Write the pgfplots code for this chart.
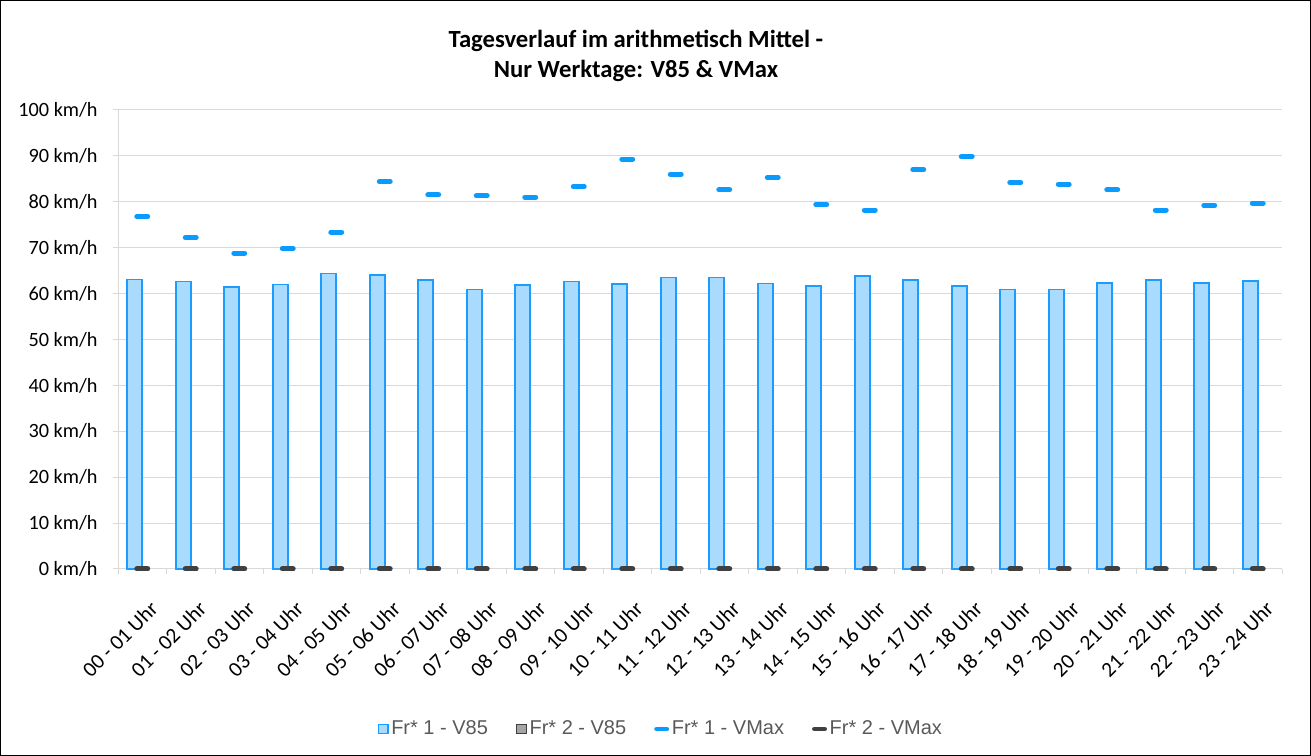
\documentclass[border=0pt]{standalone}
\usepackage{pgfplots}
\pgfplotsset{compat=1.18}
\usepackage{pgfplotstable}
\usepackage{fontspec}
\setmainfont{Carlito}
\newfontfamily\arialf{Liberation Sans}
\definecolor{barfill}{HTML}{A9DBFF}
\definecolor{bardraw}{HTML}{1C9CFF}
\definecolor{vmax}{HTML}{0A9BFF}
\definecolor{dark}{HTML}{404040}
\definecolor{gridc}{HTML}{D9D9D9}
\definecolor{legtxt}{HTML}{595959}
\definecolor{gray2}{HTML}{A5A5A5}

\pgfplotsset{
  boxleg/.style={legend image code/.code={\draw[##1] (0pt,-3.6pt) rectangle (7.2pt,3.6pt);}},
  dashleg/.style={legend image code/.code={\draw[##1, line width=3.6pt, line cap=round] (1.8pt,0pt) -- (9.4pt,0pt);}},
}

\pgfplotstableread{
x v85 vmax z
0 63.1 76.8 0
1 62.6 72.2 0
2 61.5 68.8 0
3 62.0 69.8 0
4 64.4 73.4 0
5 64.1 84.4 0
6 63.0 81.5 0
7 60.9 81.3 0
8 61.9 81.0 0
9 62.6 83.3 0
10 62.1 89.3 0
11 63.5 86.0 0
12 63.5 82.6 0
13 62.2 85.3 0
14 61.7 79.4 0
15 63.8 78.2 0
16 63.0 87.0 0
17 61.7 89.8 0
18 60.9 84.2 0
19 60.9 83.8 0
20 62.3 82.6 0
21 63.0 78.2 0
22 62.3 79.2 0
23 62.8 79.7 0
}\data

\begin{document}
\begin{tikzpicture}[x=0.75pt,y=0.75pt]
\path (0,0) rectangle (1311,756);
\draw[black, line width=0.75pt] (0.5,0.5) rectangle (1310.5,755.5);
\node[font=\bfseries\fontsize{18.5}{22.5}\selectfont, align=center] at (636,700) {Tagesverlauf im arithmetisch Mittel -\\Nur Werktage: V85 \& VMax};
\begin{axis}[
  at={(88.5pt,140.25pt)}, anchor=south west,
  scale only axis, width=873pt, height=344.25pt,
  xmin=-0.5, xmax=23.5, ymin=0, ymax=100,
  clip=false,
  axis x line*=bottom, axis y line*=left,
  axis line style={gridc, line width=0.75pt, -},
  ytick={0,10,...,100},
  yticklabels={0 km/h,10 km/h,20 km/h,30 km/h,40 km/h,50 km/h,60 km/h,70 km/h,80 km/h,90 km/h,100 km/h},
  ymajorgrids, grid style={gridc, line width=0.75pt},
  tick align=outside,
  major tick length=3.75pt,
  y tick style={gridc, line width=0.75pt},
  xtick={0,...,23},
  major x tick style={draw=none},
  minor xtick={-0.5,0.5,...,23.5},
  minor tick length=3.75pt,
  minor x tick style={gridc, line width=0.75pt},
  xticklabels={00 - 01 Uhr,01 - 02 Uhr,02 - 03 Uhr,03 - 04 Uhr,04 - 05 Uhr,05 - 06 Uhr,06 - 07 Uhr,07 - 08 Uhr,08 - 09 Uhr,09 - 10 Uhr,10 - 11 Uhr,11 - 12 Uhr,12 - 13 Uhr,13 - 14 Uhr,14 - 15 Uhr,15 - 16 Uhr,16 - 17 Uhr,17 - 18 Uhr,18 - 19 Uhr,19 - 20 Uhr,20 - 21 Uhr,21 - 22 Uhr,22 - 23 Uhr,23 - 24 Uhr},
  xticklabel style={rotate=45, anchor=north east, font=\fontsize{16}{18}\selectfont, inner sep=1pt, xshift=-9pt, yshift=-16pt},
  yticklabel style={font=\fontsize{15.2}{17}\selectfont, xshift=-8pt},
  legend columns=4,
  legend style={draw=none, fill=none, at={(0.4666,-0.3486)}, anchor=center,
    font=\arialf\fontsize{15}{18}\selectfont, text=legtxt,
    /tikz/every even column/.append style={column sep=19pt}},
  legend cell align=left,
]
\addplot[ybar, bar width=11.25pt, bar shift=-5.625pt, fill=barfill, draw=bardraw, line width=1.2pt, forget plot] table[x=x,y=v85]{\data};
\addplot[only marks, mark=-, mark size=4.1pt, color=vmax, mark options={line width=3.75pt, line cap=round}, forget plot] table[x=x,y=vmax]{\data};
\addplot[only marks, mark=-, mark size=4.1pt, color=dark, mark options={line width=3.75pt, line cap=round}, forget plot] table[x=x,y=z]{\data};

\addlegendimage{boxleg, fill=barfill, draw=bardraw, line width=1pt}
\addlegendentry{Fr* 1 - V85}
\addlegendimage{boxleg, fill=gray2, draw=dark, line width=1pt}
\addlegendentry{Fr* 2 - V85}
\addlegendimage{dashleg, draw=vmax}
\addlegendentry{Fr* 1 - VMax}
\addlegendimage{dashleg, draw=dark}
\addlegendentry{Fr* 2 - VMax}
\end{axis}
\end{tikzpicture}
\end{document}
